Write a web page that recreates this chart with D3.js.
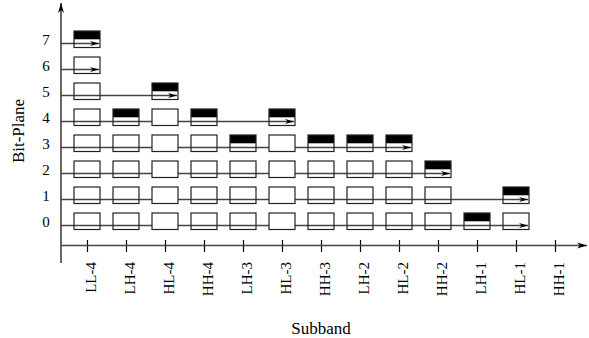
<!DOCTYPE html>
<html>
<head>
<meta charset="utf-8">
<script src="https://cdn.jsdelivr.net/npm/d3@7"></script>
<style>
  body { margin: 0; background: #fff; }
  svg text { font-family: "Liberation Serif", "Times New Roman", serif; fill: #000; }
</style>
</head>
<body>
<div id="chart"></div>
<script>
var w = 589;
var h = 338;

// subbands along the x axis
var subbands = ["LL-4", "LH-4", "HL-4", "HH-4", "LH-3", "HL-3", "HH-3",
                "LH-2", "HL-2", "HH-2", "LH-1", "HL-1", "HH-1"];
var planes = [0, 1, 2, 3, 4, 5, 6, 7];

// for each bit-plane: subbands that hold a box, the ones with a black top, and where the scan arrow stops
var planeBoxes = [
	["LL-4","LH-4","HL-4","HH-4","LH-3","HL-3","HH-3","LH-2","HL-2","HH-2","LH-1","HL-1"],
	["LL-4","LH-4","HL-4","HH-4","LH-3","HL-3","HH-3","LH-2","HL-2","HH-2","HL-1"],
	["LL-4","LH-4","HL-4","HH-4","LH-3","HL-3","HH-3","LH-2","HL-2","HH-2"],
	["LL-4","LH-4","HL-4","HH-4","LH-3","HL-3","HH-3","LH-2","HL-2"],
	["LL-4","LH-4","HL-4","HH-4","HL-3"],
	["LL-4","HL-4"],
	["LL-4"],
	["LL-4"]
];
var planeFilled = [
	["LH-1"],
	["HL-1"],
	["HH-2"],
	["LH-3","HH-3","LH-2","HL-2"],
	["LH-4","HH-4","HL-3"],
	["HL-4"],
	[],
	["LL-4"]
];
var planeEnd = ["HL-1", "HL-1", "HH-2", "HL-2", "HL-3", "HL-4", "LL-4", "LL-4"];
// white boxes in these subbands hide the scan line
var opaqueBands = ["HL-4", "HL-3"];

var boxW = 26;
var lineCol = "#444";

var svg = d3.select("#chart")
	.append("svg")
	.attr("width", w)
	.attr("height", h);

var xScale = d3.scalePoint()
	.domain(subbands)
	.range([87, 555]);

var yScale = d3.scaleLinear()
	.domain([0, 7])
	.range([225.5, 43.5]);

var x0 = 61, xAxisY = 245.5;

// arrowheads
var defs = svg.append("defs");
function arrow(id, len, half) {
	defs.append("marker")
		.attr("id", id)
		.attr("markerUnits", "userSpaceOnUse")
		.attr("viewBox", (-len - 1) + " " + (-half - 1) + " " + (len + 2) + " " + (2 * half + 2))
		.attr("refX", 0).attr("refY", 0)
		.attr("markerWidth", len + 2).attr("markerHeight", 2 * half + 2)
		.attr("orient", "auto")
		.append("path")
		.attr("d", "M0,0L" + (-len) + "," + (-half) + "L" + (-len * 0.7) + ",0L" + (-len) + "," + half + "Z")
		.attr("fill", "#000");
}
arrow("scan", 9, 2.6);
arrow("ax", 10, 3);

// axes
svg.append("line")
	.attr("x1", x0).attr("y1", 263)
	.attr("x2", x0).attr("y2", 3)
	.attr("stroke", "#000").attr("stroke-width", 1.2)
	.attr("marker-end", "url(#ax)");

var xAxis = d3.axisBottom(xScale).tickSize(0).tickFormat("");
var gx = svg.append("g")
	.attr("transform", "translate(0," + xAxisY + ")")
	.call(xAxis);
gx.select(".domain").remove();
gx.selectAll(".tick line")
	.attr("y1", -5.5).attr("y2", 6.5)
	.attr("stroke", "#000").attr("stroke-width", 1.2);

svg.append("line")
	.attr("x1", x0).attr("y1", xAxisY)
	.attr("x2", 587).attr("y2", xAxisY)
	.attr("stroke", lineCol).attr("stroke-width", 1.4)
	.attr("marker-end", "url(#ax)");

// subband labels
svg.selectAll("text.band")
	.data(subbands)
	.enter()
	.append("text")
	.attr("class", "band")
	.attr("transform", function(d) {
		return "translate(" + (xScale(d) + 8.5) + ",262) rotate(-90)";
	})
	.attr("text-anchor", "end")
	.style("font-size", "15px")
	.text(function(d) { return d; });

// plane labels
svg.selectAll("text.plane")
	.data(planes)
	.enter()
	.append("text")
	.attr("class", "plane")
	.attr("x", 46)
	.attr("y", function(d) { return yScale(d) + 1.5; })
	.attr("text-anchor", "middle")
	.style("font-size", "15px")
	.text(function(d) { return d; });

// scan lines
svg.selectAll("line.scan")
	.data(planes)
	.enter()
	.append("line")
	.attr("class", "scan")
	.attr("x1", x0)
	.attr("x2", function(d) { return xScale(planeEnd[d]) + boxW / 2 - 1; })
	.attr("y1", function(d) { return yScale(d); })
	.attr("y2", function(d) { return yScale(d); })
	.attr("stroke", lineCol)
	.attr("stroke-width", 1.4)
	.attr("marker-end", "url(#scan)");

// boxes
var cells = [];
planes.forEach(function(p) {
	planeBoxes[p].forEach(function(b) {
		cells.push({ plane: p, band: b, filled: planeFilled[p].indexOf(b) >= 0 });
	});
});

var cell = svg.selectAll("g.cell")
	.data(cells)
	.enter()
	.append("g")
	.attr("class", "cell")
	.attr("transform", function(d) {
		return "translate(" + (xScale(d.band) - boxW / 2) + "," + (yScale(d.plane) - 12.5) + ")";
	});

cell.filter(function(d) { return d.filled; })
	.append("rect")
	.attr("width", boxW)
	.attr("height", 8.3)
	.attr("fill", "#000");

cell.append("rect")
	.attr("width", boxW)
	.attr("height", 16.5)
	.attr("fill", function(d) {
		return !d.filled && opaqueBands.indexOf(d.band) >= 0 ? "#fff" : "none";
	})
	.attr("stroke", "#222")
	.attr("stroke-width", 1.2);

// axis titles
svg.append("text")
	.attr("transform", "translate(24,131) rotate(-90)")
	.attr("text-anchor", "middle")
	.style("font-size", "17px")
	.text("Bit-Plane");

svg.append("text")
	.attr("x", 321)
	.attr("y", 334)
	.attr("text-anchor", "middle")
	.style("font-size", "17px")
	.text("Subband");
</script>
</body>
</html>
